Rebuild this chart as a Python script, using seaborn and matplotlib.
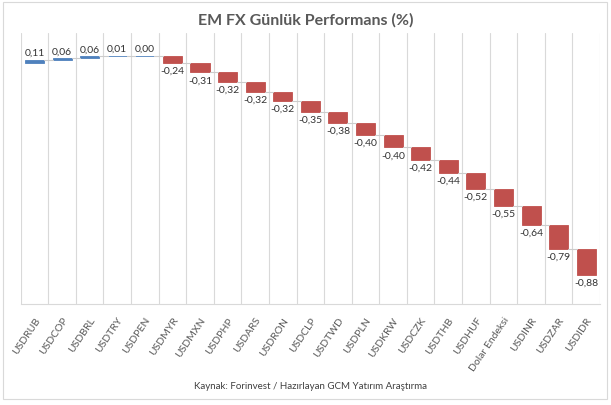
import numpy as np
import pandas as pd
import seaborn as sns
import matplotlib
matplotlib.use("Agg")
import matplotlib.pyplot as plt
from matplotlib.patches import Rectangle

# Data
pairs = ["USDRUB", "USDCOP", "USDBRL", "USDTRY", "USDPEN", "USDMYR", "USDMXN",
         "USDPHP", "USDARS", "USDRON", "USDCLP", "USDTWD", "USDPLN", "USDKRW",
         "USDCZK", "USDTHB", "USDHUF", "Dolar Endeksi", "USDINR", "USDZAR",
         "USDIDR"]
changes = [0.11, 0.06, 0.06, 0.01, 0.00, -0.24, -0.31, -0.32, -0.32, -0.32,
           -0.35, -0.38, -0.40, -0.40, -0.42, -0.44, -0.52, -0.55, -0.64,
           -0.79, -0.88]

# Waterfall layout (Excel style: each bar starts where previous one ended)
vals = np.array(changes)
ends = np.cumsum(vals)
starts = ends - vals

df = pd.DataFrame({"pair": pairs, "change": vals, "start": starts})

sns.set_style("white")
plt.rcParams["font.family"] = ["Lato", "DejaVu Sans"]

fig = plt.figure(figsize=(6.11, 4.06), dpi=100)
ax = fig.add_axes([20.7 / 611, 1 - 305 / 406, (600 - 20.7) / 611, (305 - 34) / 406])

w = 0.69
sns.barplot(data=df, x="pair", y="change", order=pairs,
            bottom=df["start"].values, width=w, color="#C0504D",
            saturation=1, ax=ax)
for patch, v in zip(ax.patches, changes):
    c = "#4F81BD" if v >= 0 else "#C0504D"
    patch.set_facecolor(c)
    patch.set_edgecolor(c)
    patch.set_linewidth(0.6)

grid_c = "#D9D9D9"
n = len(pairs)
for b in np.arange(-0.5, n, 1.0):
    ax.axvline(b, color=grid_c, lw=0.8, zorder=0)

# connectors
for i in range(n - 1):
    ax.plot([i + w / 2, i + 1 - w / 2], [ends[i], ends[i]], color="#CCCCCC",
            lw=0.8, zorder=1)

# data labels
for i, v in enumerate(changes):
    txt = "{:.2f}".format(v).replace(".", ",")
    if v >= 0:
        ax.annotate(txt, (i, max(starts[i], ends[i])), xytext=(0, 2),
                    textcoords="offset points", ha="center", va="bottom",
                    fontsize=7.5, color="#333333")
    else:
        ax.annotate(txt, (i, ends[i]), xytext=(0, -2),
                    textcoords="offset points", ha="center", va="top",
                    fontsize=7.5, color="#333333")

ax.set_xlim(-0.5, n - 0.5)
ax.set_ylim(-8, 1)
ax.set_yticks([])
ax.set_xlabel("")
ax.set_ylabel("")
for s in ["top", "left", "right"]:
    ax.spines[s].set_visible(False)
ax.spines["bottom"].set_color(grid_c)
ax.spines["bottom"].set_linewidth(0.8)
ax.tick_params(axis="x", length=0, pad=8)
ax.set_xticks(range(n))
ax.set_xticklabels(pairs, rotation=56, ha="right", rotation_mode="anchor",
                   fontsize=7.5, color="#595959")

fig.text(0.5, 1 - 20 / 406, "EM FX Günlük Performans (%)", ha="center",
         va="center", fontsize=11.5, fontweight="bold", color="#595959")
fig.text(310 / 611, 1 - 387 / 406,
         "Kaynak: Forinvest / Hazırlayan GCM Yatırım Araştırma",
         ha="center", va="center", fontsize=7, color="#404040")

fig.patches.append(Rectangle((3 / 611, 1 - 400 / 406), 604 / 611, 397 / 406,
                             transform=fig.transFigure, fill=False,
                             edgecolor=grid_c, lw=0.8))

fig.savefig("out.png", dpi=100)
plt.close()
